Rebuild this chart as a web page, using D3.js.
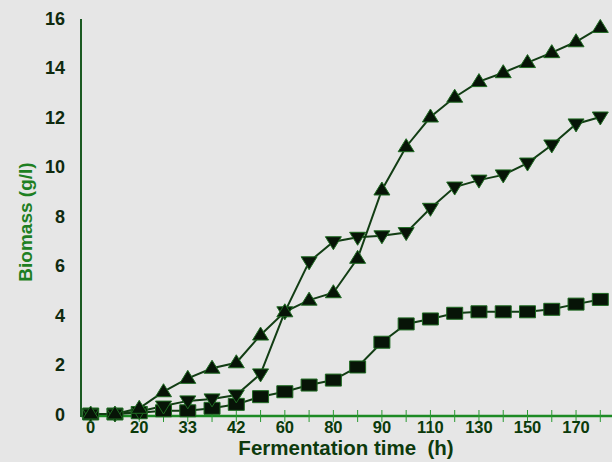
<!DOCTYPE html>
<html>
<head>
<meta charset="utf-8">
<script src="https://cdn.jsdelivr.net/npm/d3@7"></script>
<style>
  body { margin: 0; background: #e6e6e6; }
  svg { display: block; }
</style>
</head>
<body>
<svg></svg>
<script>
var width = 612;
var height = 462;

// one label under every other tick
var tickLabels = ["0","","20","","33","","42","","60","","80","","90","","110","","130","","150","","170",""];
var yTicks = [0,2,4,6,8,10,12,14,16];

var upTri = [0,0,0.23,0.9,1.44,1.85,2.07,3.19,4.13,4.6,4.9,6.29,9.05,10.8,12.0,12.8,13.43,13.79,14.2,14.6,15.04,15.62];
var downTri = [0,0,0.1,0.32,0.53,0.61,0.77,1.62,4.13,6.15,6.96,7.14,7.2,7.33,8.31,9.17,9.45,9.66,10.14,10.87,11.72,12.0];
var squares = [0,0,0.05,0.13,0.13,0.23,0.39,0.7,0.9,1.17,1.37,1.9,2.9,3.64,3.84,4.07,4.13,4.13,4.13,4.23,4.44,4.63];

var svg = d3.select("svg")
      .attr("width", width)
      .attr("height", height);

var x = d3.scaleLinear().domain([0, 21]).range([90.7, 600.3]);
var y = d3.scaleLinear().domain([0, 16]).range([414, 18]);

var font = "Liberation Sans, Arial, sans-serif";

// x axis
var xAxis = svg.append("g")
    .attr("transform", "translate(0,416)");
xAxis.append("line")
    .attr("x1", 81).attr("x2", 612)
    .attr("stroke", "#1c8a24").attr("stroke-width", 2.5);
xAxis.selectAll(".tk")
    .data(d3.range(tickLabels.length))
    .enter().append("line")
    .attr("x1", function(d){ return x(d); })
    .attr("x2", function(d){ return x(d); })
    .attr("y1", -6).attr("y2", 6)
    .attr("stroke", "#2a9a32").attr("stroke-width", 1);
xAxis.selectAll(".lb")
    .data(d3.range(tickLabels.length))
    .enter().append("text")
    .attr("x", function(d){ return x(d); })
    .attr("y", 17)
    .attr("text-anchor", "middle")
    .attr("font-family", font)
    .attr("font-weight", "bold")
    .attr("font-size", 16.5)
    .attr("fill", "#0b3a0b")
    .text(function(d){ return tickLabels[d]; });

// y axis
svg.append("line")
    .attr("x1", 81).attr("x2", 81)
    .attr("y1", 19).attr("y2", 417)
    .attr("stroke", "#1b5a22").attr("stroke-width", 2);
svg.selectAll(".ylb")
    .data(yTicks)
    .enter().append("text")
    .attr("x", 65)
    .attr("y", function(d){ return y(d) + 6.5; })
    .attr("text-anchor", "end")
    .attr("font-family", font)
    .attr("font-weight", "bold")
    .attr("font-size", 18)
    .attr("fill", "#0f2a0f")
    .text(function(d){ return d; });

svg.append("text")
    .attr("transform", "translate(32,222) rotate(-90)")
    .attr("text-anchor", "middle")
    .attr("font-family", font)
    .attr("font-weight", "bold")
    .attr("font-size", 19)
    .attr("fill", "#1e7f22")
    .text("Biomass (g/l)");

svg.append("text")
    .attr("x", 346)
    .attr("y", 455)
    .attr("text-anchor", "middle")
    .attr("font-family", font)
    .attr("font-weight", "bold")
    .attr("font-size", 20.5)
    .attr("fill", "#0d3a0d")
    .style("white-space", "pre")
    .text("Fermentation time  (h)");

var line = d3.line()
    .x(function(d, i){ return x(i); })
    .y(function(d){ return y(d); });

var series = [squares, downTri, upTri];
svg.selectAll(".ln")
    .data(series)
    .enter().append("path")
    .attr("d", line)
    .attr("fill", "none")
    .attr("stroke", "#123d14")
    .attr("stroke-width", 2);

function drawMarkers(data, shape) {
  svg.append("g").selectAll("path")
    .data(data)
    .enter().append("path")
    .attr("transform", function(d, i){ return "translate(" + x(i) + "," + y(d) + ")"; })
    .attr("d", shape)
    .attr("fill", "#071407")
    .attr("stroke", "#1f6b22")
    .attr("stroke-width", 1);
}

drawMarkers(squares, "M-8,-6H8V6H-8Z");
drawMarkers(downTri, "M-8,-5H8L0,8Z");
drawMarkers(upTri, "M-8,5H8L0,-8Z");
</script>
</body>
</html>
